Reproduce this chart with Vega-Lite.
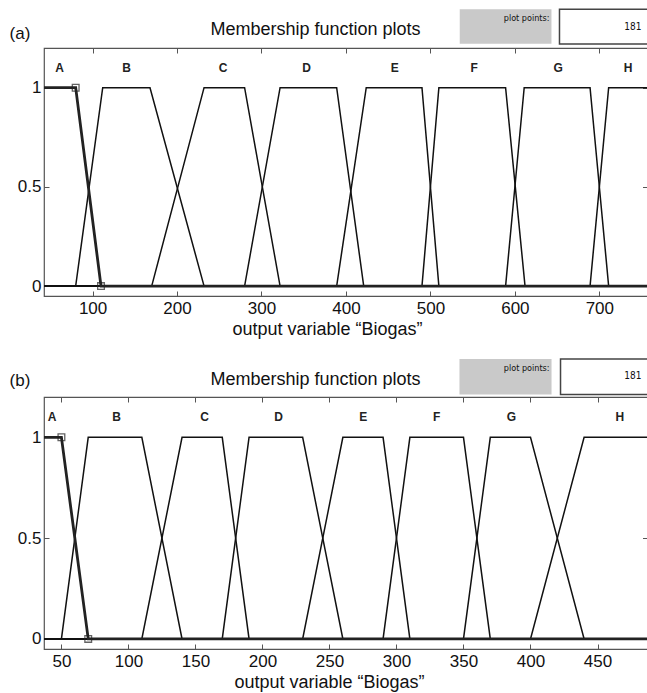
{
  "$schema": "https://vega.github.io/schema/vega-lite/v6.json",
  "background": "white",
  "padding": {"top": 7, "left": 8, "right": 0, "bottom": 4},
  "autosize": {"type": "pad"},
  "config": {
    "font": "Liberation Sans",
    "view": {"stroke": "#555", "strokeWidth": 1.2},
    "axis": {"grid": false, "domain": false, "tickColor": "#555", "tickSize": -5, "tickWidth": 1, "labelPadding": 9, "labelFontSize": 17, "labelColor": "#111", "labelFont": "Liberation Sans", "titleFont": "Liberation Sans", "titleFontSize": 18, "titleColor": "#111", "titleFontWeight": "normal"},
    "axisY": {"labelPadding": 8}
  },
  "datasets": {
    "mfA": [
      {"mf": "A", "x": 42.5, "y": 1}, {"mf": "A", "x": 80, "y": 1}, {"mf": "A", "x": 110, "y": 0}, {"mf": "A", "x": 757, "y": 0},
      {"mf": "B", "x": 42.5, "y": 0}, {"mf": "B", "x": 80, "y": 0}, {"mf": "B", "x": 112, "y": 1}, {"mf": "B", "x": 168, "y": 1}, {"mf": "B", "x": 232, "y": 0}, {"mf": "B", "x": 757, "y": 0},
      {"mf": "C", "x": 42.5, "y": 0}, {"mf": "C", "x": 170, "y": 0}, {"mf": "C", "x": 232, "y": 1}, {"mf": "C", "x": 280, "y": 1}, {"mf": "C", "x": 322, "y": 0}, {"mf": "C", "x": 757, "y": 0},
      {"mf": "D", "x": 42.5, "y": 0}, {"mf": "D", "x": 280, "y": 0}, {"mf": "D", "x": 322, "y": 1}, {"mf": "D", "x": 389, "y": 1}, {"mf": "D", "x": 421, "y": 0}, {"mf": "D", "x": 757, "y": 0},
      {"mf": "E", "x": 42.5, "y": 0}, {"mf": "E", "x": 389, "y": 0}, {"mf": "E", "x": 424, "y": 1}, {"mf": "E", "x": 490, "y": 1}, {"mf": "E", "x": 510, "y": 0}, {"mf": "E", "x": 757, "y": 0},
      {"mf": "F", "x": 42.5, "y": 0}, {"mf": "F", "x": 490, "y": 0}, {"mf": "F", "x": 510, "y": 1}, {"mf": "F", "x": 589, "y": 1}, {"mf": "F", "x": 612, "y": 0}, {"mf": "F", "x": 757, "y": 0},
      {"mf": "G", "x": 42.5, "y": 0}, {"mf": "G", "x": 589, "y": 0}, {"mf": "G", "x": 611, "y": 1}, {"mf": "G", "x": 689, "y": 1}, {"mf": "G", "x": 711, "y": 0}, {"mf": "G", "x": 757, "y": 0},
      {"mf": "H", "x": 42.5, "y": 0}, {"mf": "H", "x": 689, "y": 0}, {"mf": "H", "x": 711, "y": 1}, {"mf": "H", "x": 757, "y": 1}
    ],
    "lettersA": [
      {"label": "A", "x": 60.8, "y": 1.1}, {"label": "B", "x": 140.2, "y": 1.1}, {"label": "C", "x": 254.6, "y": 1.1}, {"label": "D", "x": 353.3, "y": 1.1},
      {"label": "E", "x": 457.8, "y": 1.1}, {"label": "F", "x": 551.8, "y": 1.1}, {"label": "G", "x": 651.2, "y": 1.1}, {"label": "H", "x": 734.1, "y": 1.1}
    ],
    "mfB": [
      {"mf": "A", "x": 37, "y": 1}, {"mf": "A", "x": 50, "y": 1}, {"mf": "A", "x": 70, "y": 0}, {"mf": "A", "x": 487.3, "y": 0},
      {"mf": "B", "x": 37, "y": 0}, {"mf": "B", "x": 50, "y": 0}, {"mf": "B", "x": 70, "y": 1}, {"mf": "B", "x": 110, "y": 1}, {"mf": "B", "x": 140, "y": 0}, {"mf": "B", "x": 487.3, "y": 0},
      {"mf": "C", "x": 37, "y": 0}, {"mf": "C", "x": 110, "y": 0}, {"mf": "C", "x": 140, "y": 1}, {"mf": "C", "x": 170, "y": 1}, {"mf": "C", "x": 190, "y": 0}, {"mf": "C", "x": 487.3, "y": 0},
      {"mf": "D", "x": 37, "y": 0}, {"mf": "D", "x": 170, "y": 0}, {"mf": "D", "x": 190, "y": 1}, {"mf": "D", "x": 230, "y": 1}, {"mf": "D", "x": 260, "y": 0}, {"mf": "D", "x": 487.3, "y": 0},
      {"mf": "E", "x": 37, "y": 0}, {"mf": "E", "x": 230, "y": 0}, {"mf": "E", "x": 260, "y": 1}, {"mf": "E", "x": 290, "y": 1}, {"mf": "E", "x": 310, "y": 0}, {"mf": "E", "x": 487.3, "y": 0},
      {"mf": "F", "x": 37, "y": 0}, {"mf": "F", "x": 290, "y": 0}, {"mf": "F", "x": 310, "y": 1}, {"mf": "F", "x": 350, "y": 1}, {"mf": "F", "x": 370, "y": 0}, {"mf": "F", "x": 487.3, "y": 0},
      {"mf": "G", "x": 37, "y": 0}, {"mf": "G", "x": 350, "y": 0}, {"mf": "G", "x": 370, "y": 1}, {"mf": "G", "x": 400, "y": 1}, {"mf": "G", "x": 440, "y": 0}, {"mf": "G", "x": 487.3, "y": 0},
      {"mf": "H", "x": 37, "y": 0}, {"mf": "H", "x": 400, "y": 0}, {"mf": "H", "x": 440, "y": 1}, {"mf": "H", "x": 487.3, "y": 1}
    ],
    "lettersB": [
      {"label": "A", "x": 43.1, "y": 1.1}, {"label": "B", "x": 91.1, "y": 1.1}, {"label": "C", "x": 156.8, "y": 1.1}, {"label": "D", "x": 212, "y": 1.1},
      {"label": "E", "x": 275.2, "y": 1.1}, {"label": "F", "x": 329.9, "y": 1.1}, {"label": "G", "x": 385.8, "y": 1.1}, {"label": "H", "x": 466.6, "y": 1.1}
    ]
  },
  "spacing": 101,
  "bounds": "flush",
  "vconcat": [
    {
      "width": 603.5,
      "height": 248,
      "layer": [
        {
          "encoding": {
            "x": {"field": "x", "type": "quantitative", "scale": {"domain": [42.5, 757], "nice": false, "zero": false}, "axis": {"values": [100, 200, 300, 400, 500, 600, 700], "title": "output variable “Biogas”", "titlePadding": 4, "titleX": 283}},
            "y": {"field": "y", "type": "quantitative", "scale": {"domain": [-0.05, 1.2], "nice": false, "zero": false}, "axis": {"values": [0, 0.5, 1], "format": "~g", "title": null}}
          },
          "layer": [
            {"data": {"name": "mfA"}, "transform": [{"filter": "datum.mf != 'A'"}], "mark": {"type": "line", "color": "#111", "strokeWidth": 1.5, "clip": true}, "encoding": {"detail": {"field": "mf"}}},
            {"data": {"name": "mfA"}, "transform": [{"filter": "datum.mf == 'A'"}], "mark": {"type": "line", "color": "#222", "strokeWidth": 2.8, "clip": true}, "encoding": {"detail": {"field": "mf"}}},
            {"data": {"values": [{"x": 80, "y": 1}, {"x": 110, "y": 0}]}, "mark": {"type": "square", "filled": false, "size": 45, "color": "#222", "strokeWidth": 1.3}},
            {"data": {"name": "lettersA"}, "mark": {"type": "text", "fontSize": 12, "fontWeight": "bold", "color": "#222", "baseline": "middle"}, "encoding": {"text": {"field": "label"}}},
            {"data": {"values": [{"x": 534.7, "x2": 643.3, "y": 1.395, "y2": 1.222}]}, "mark": {"type": "rect", "fill": "#c9c9c9"}, "encoding": {"x2": {"field": "x2"}, "y2": {"field": "y2"}}},
            {"data": {"values": [{"x": 652.8, "x2": 762, "y": 1.395, "y2": 1.22}]}, "mark": {"type": "rect", "fill": "white", "stroke": "#444", "strokeWidth": 1.5}, "encoding": {"x2": {"field": "x2"}, "y2": {"field": "y2"}}},
            {"data": {"values": [{"label": "plot points:", "x": 640.9, "y": 1.35}]}, "mark": {"type": "text", "align": "right", "baseline": "middle", "fontSize": 9, "font": "DejaVu Sans Condensed, Liberation Sans", "letterSpacing": -0.5, "color": "#111"}, "encoding": {"text": {"field": "label"}}},
            {"data": {"values": [{"label": "181", "x": 749.8, "y": 1.308}]}, "mark": {"type": "text", "align": "right", "baseline": "middle", "fontSize": 10, "font": "DejaVu Sans Condensed, Liberation Sans", "color": "#111"}, "encoding": {"text": {"field": "label"}}},
            {"data": {"values": [{"label": "(a)", "x": 1.7, "y": 1.271}]}, "mark": {"type": "text", "align": "left", "baseline": "middle", "fontSize": 17, "color": "#111"}, "encoding": {"text": {"field": "label"}}},
            {"data": {"values": [{"label": "Membership function plots", "x": 364, "y": 1.291}]}, "mark": {"type": "text", "align": "center", "baseline": "middle", "fontSize": 18, "color": "#111"}, "encoding": {"text": {"field": "label"}}}
          ]
        },
        {
          "data": {"name": "lettersA"},
          "mark": {"type": "point", "opacity": 0},
          "encoding": {
            "x": {"field": "x", "type": "quantitative", "scale": {"domain": [42.5, 757], "nice": false, "zero": false}, "axis": {"orient": "top", "values": [100, 200, 300, 400, 500, 600, 700], "labels": false, "title": null}},
            "y": {"field": "y", "type": "quantitative", "scale": {"domain": [-0.05, 1.2], "nice": false, "zero": false}, "axis": {"orient": "right", "values": [0, 0.5, 1], "labels": false, "title": null}}
          }
        }
      ],
      "resolve": {"axis": {"x": "independent", "y": "independent"}}
    },
    {
      "width": 603.5,
      "height": 252,
      "layer": [
        {
          "encoding": {
            "x": {"field": "x", "type": "quantitative", "scale": {"domain": [37, 487.3], "nice": false, "zero": false}, "axis": {"values": [50, 100, 150, 200, 250, 300, 350, 400, 450], "title": "output variable “Biogas”", "titlePadding": 4, "titleX": 285}},
            "y": {"field": "y", "type": "quantitative", "scale": {"domain": [-0.05, 1.2], "nice": false, "zero": false}, "axis": {"values": [0, 0.5, 1], "format": "~g", "title": null}}
          },
          "layer": [
            {"data": {"name": "mfB"}, "transform": [{"filter": "datum.mf != 'A'"}], "mark": {"type": "line", "color": "#111", "strokeWidth": 1.5, "clip": true}, "encoding": {"detail": {"field": "mf"}}},
            {"data": {"name": "mfB"}, "transform": [{"filter": "datum.mf == 'A'"}], "mark": {"type": "line", "color": "#222", "strokeWidth": 2.8, "clip": true}, "encoding": {"detail": {"field": "mf"}}},
            {"data": {"values": [{"x": 50, "y": 1}, {"x": 70, "y": 0}]}, "mark": {"type": "square", "filled": false, "size": 45, "color": "#222", "strokeWidth": 1.3}},
            {"data": {"name": "lettersB"}, "mark": {"type": "text", "fontSize": 12, "fontWeight": "bold", "color": "#222", "baseline": "middle"}, "encoding": {"text": {"field": "label"}}},
            {"data": {"values": [{"x": 347, "x2": 415.7, "y": 1.388, "y2": 1.213}]}, "mark": {"type": "rect", "fill": "#c9c9c9"}, "encoding": {"x2": {"field": "x2"}, "y2": {"field": "y2"}}},
            {"data": {"values": [{"x": 422.4, "x2": 489.5, "y": 1.388, "y2": 1.213}]}, "mark": {"type": "rect", "fill": "white", "stroke": "#444", "strokeWidth": 1.5}, "encoding": {"x2": {"field": "x2"}, "y2": {"field": "y2"}}},
            {"data": {"values": [{"label": "plot points:", "x": 414.2, "y": 1.342}]}, "mark": {"type": "text", "align": "right", "baseline": "middle", "fontSize": 9, "font": "DejaVu Sans Condensed, Liberation Sans", "letterSpacing": -0.5, "color": "#111"}, "encoding": {"text": {"field": "label"}}},
            {"data": {"values": [{"label": "181", "x": 482.8, "y": 1.304}]}, "mark": {"type": "text", "align": "right", "baseline": "middle", "fontSize": 10, "font": "DejaVu Sans Condensed, Liberation Sans", "color": "#111"}, "encoding": {"text": {"field": "label"}}},
            {"data": {"values": [{"label": "(b)", "x": 11.3, "y": 1.279}]}, "mark": {"type": "text", "align": "left", "baseline": "middle", "fontSize": 17, "color": "#111"}, "encoding": {"text": {"field": "label"}}},
            {"data": {"values": [{"label": "Membership function plots", "x": 239.6, "y": 1.284}]}, "mark": {"type": "text", "align": "center", "baseline": "middle", "fontSize": 18, "color": "#111"}, "encoding": {"text": {"field": "label"}}}
          ]
        },
        {
          "data": {"name": "lettersB"},
          "mark": {"type": "point", "opacity": 0},
          "encoding": {
            "x": {"field": "x", "type": "quantitative", "scale": {"domain": [37, 487.3], "nice": false, "zero": false}, "axis": {"orient": "top", "values": [50, 100, 150, 200, 250, 300, 350, 400, 450], "labels": false, "title": null}},
            "y": {"field": "y", "type": "quantitative", "scale": {"domain": [-0.05, 1.2], "nice": false, "zero": false}, "axis": {"orient": "right", "values": [0, 0.5, 1], "labels": false, "title": null}}
          }
        }
      ],
      "resolve": {"axis": {"x": "independent", "y": "independent"}}
    }
  ]
}
